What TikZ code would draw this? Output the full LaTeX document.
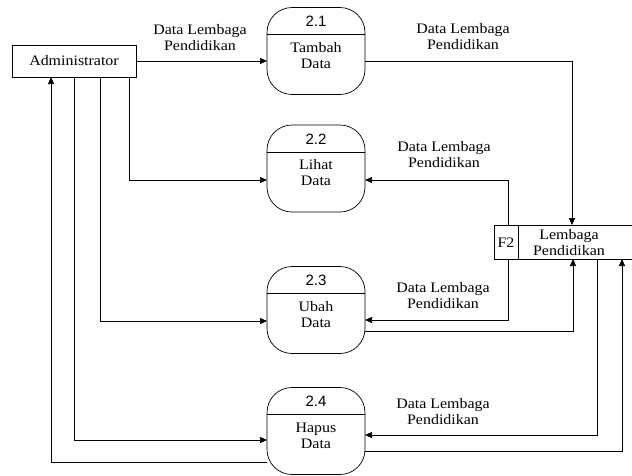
\documentclass[tikz,border=0pt]{standalone}
\usepackage{fontspec}
\setmainfont{Liberation Serif}
\newfontfamily\serifface[FakeStretch=1.1]{Liberation Serif}
\newfontfamily\numfont{Liberation Sans}
\usetikzlibrary{calc,arrows.meta}
\begin{document}
\begin{tikzpicture}[x=1pt,y=-1pt,
  line width=0.7pt,
  every node/.style={inner sep=0pt,outer sep=0pt},
  txt/.style={font=\serifface\fontsize{14.5}{16}\selectfont},
  entity/.style={draw,rectangle,minimum width=124pt,minimum height=32pt,txt},
  proc/.style={draw,rectangle,rounded corners=25pt,minimum width=98pt,minimum height=87pt},
  pnum/.style={font=\numfont\fontsize{15}{16}\selectfont},
  ptxt/.style={txt,align=center},
  flowlabel/.style={txt,align=center},
  arr/.style={-{Triangle[length=7pt,width=6pt]}}
]
\useasboundingbox (0,0) rectangle (632,475);

% external entity
\node[entity] (admin) at (74,61) {Administrator};

% processes
\foreach \n/\cy/\nm in {1/51/Tambah,2/168.5/Lihat,3/310/Ubah,4/431/Hapus}{
  \node[proc] (p\n) at (316,\cy) {};
  \draw (p\n.north west) ++(0,27) coordinate (h\n) -- (h\n -| p\n.east);
  \node[pnum] (p\n num) at ($(p\n.north)+(0,14)$) {2.\n};
  \node[ptxt] (p\n txt) at ($(p\n.north)+(0,48)$) {\nm\\Data};
}

% data store (open on the right)
\node[minimum width=138pt,minimum height=34pt] (store) at (563,242) {};
\draw (store.north east) -- (store.north west) -- (store.south west) -- (store.south east);
\draw ($(store.north west)+(24,0)$) coordinate (sd) -- (sd |- store.south);
\node[txt] (storeid) at ($(store.west)+(12,1)$) {F2};
\node[txt,align=center] (storename) at ($(store.center)+(6,1)$) {Lembaga\\Pendidikan};

% flows between Administrator and processes
\draw[arr] (admin.east) -- (admin.east -| p1.west);
\draw[arr] ($(admin.south)+(55,0)$) |- ($(p2.west)+(0,11.5)$);
\draw[arr] ($(admin.south)+(26,0)$) |- ($(p3.west)+(0,11)$);
\draw[arr] (admin.south) |- ($(p4.west)+(0,9)$);
\draw[arr] ($(p4.west)+(0,31)$) -| ($(admin.south)+(-23,0)$);

% flows between processes and the data store
\draw[arr] (admin.east -| p1.east) -| ($(store.north)+(9,0)$);
\draw[arr] ($(store.north)+(-55,0)$) |- ($(p2.east)+(0,11.5)$);
\draw[arr] ($(store.south)+(-55,0)$) |- ($(p3.east)+(0,10)$);
\draw[arr] ($(p3.east)+(0,21)$) -| ($(store.south)+(10,0)$);
\draw[arr] ($(store.south)+(34,0)$) |- ($(p4.east)+(0,4)$);
\draw[arr] ($(p4.east)+(0,20)$) -| ($(store.south)+(59,0)$);

% flow labels
\node[flowlabel] (l1) at (200,38) {Data Lembaga\\Pendidikan};
\node[flowlabel] (l2) at (463,37) {Data Lembaga\\Pendidikan};
\node[flowlabel] (l3) at (444,155) {Data Lembaga\\Pendidikan};
\node[flowlabel] (l4) at (443,296) {Data Lembaga\\Pendidikan};
\node[flowlabel] (l5) at (443,412) {Data Lembaga\\Pendidikan};
\end{tikzpicture}
\end{document}
